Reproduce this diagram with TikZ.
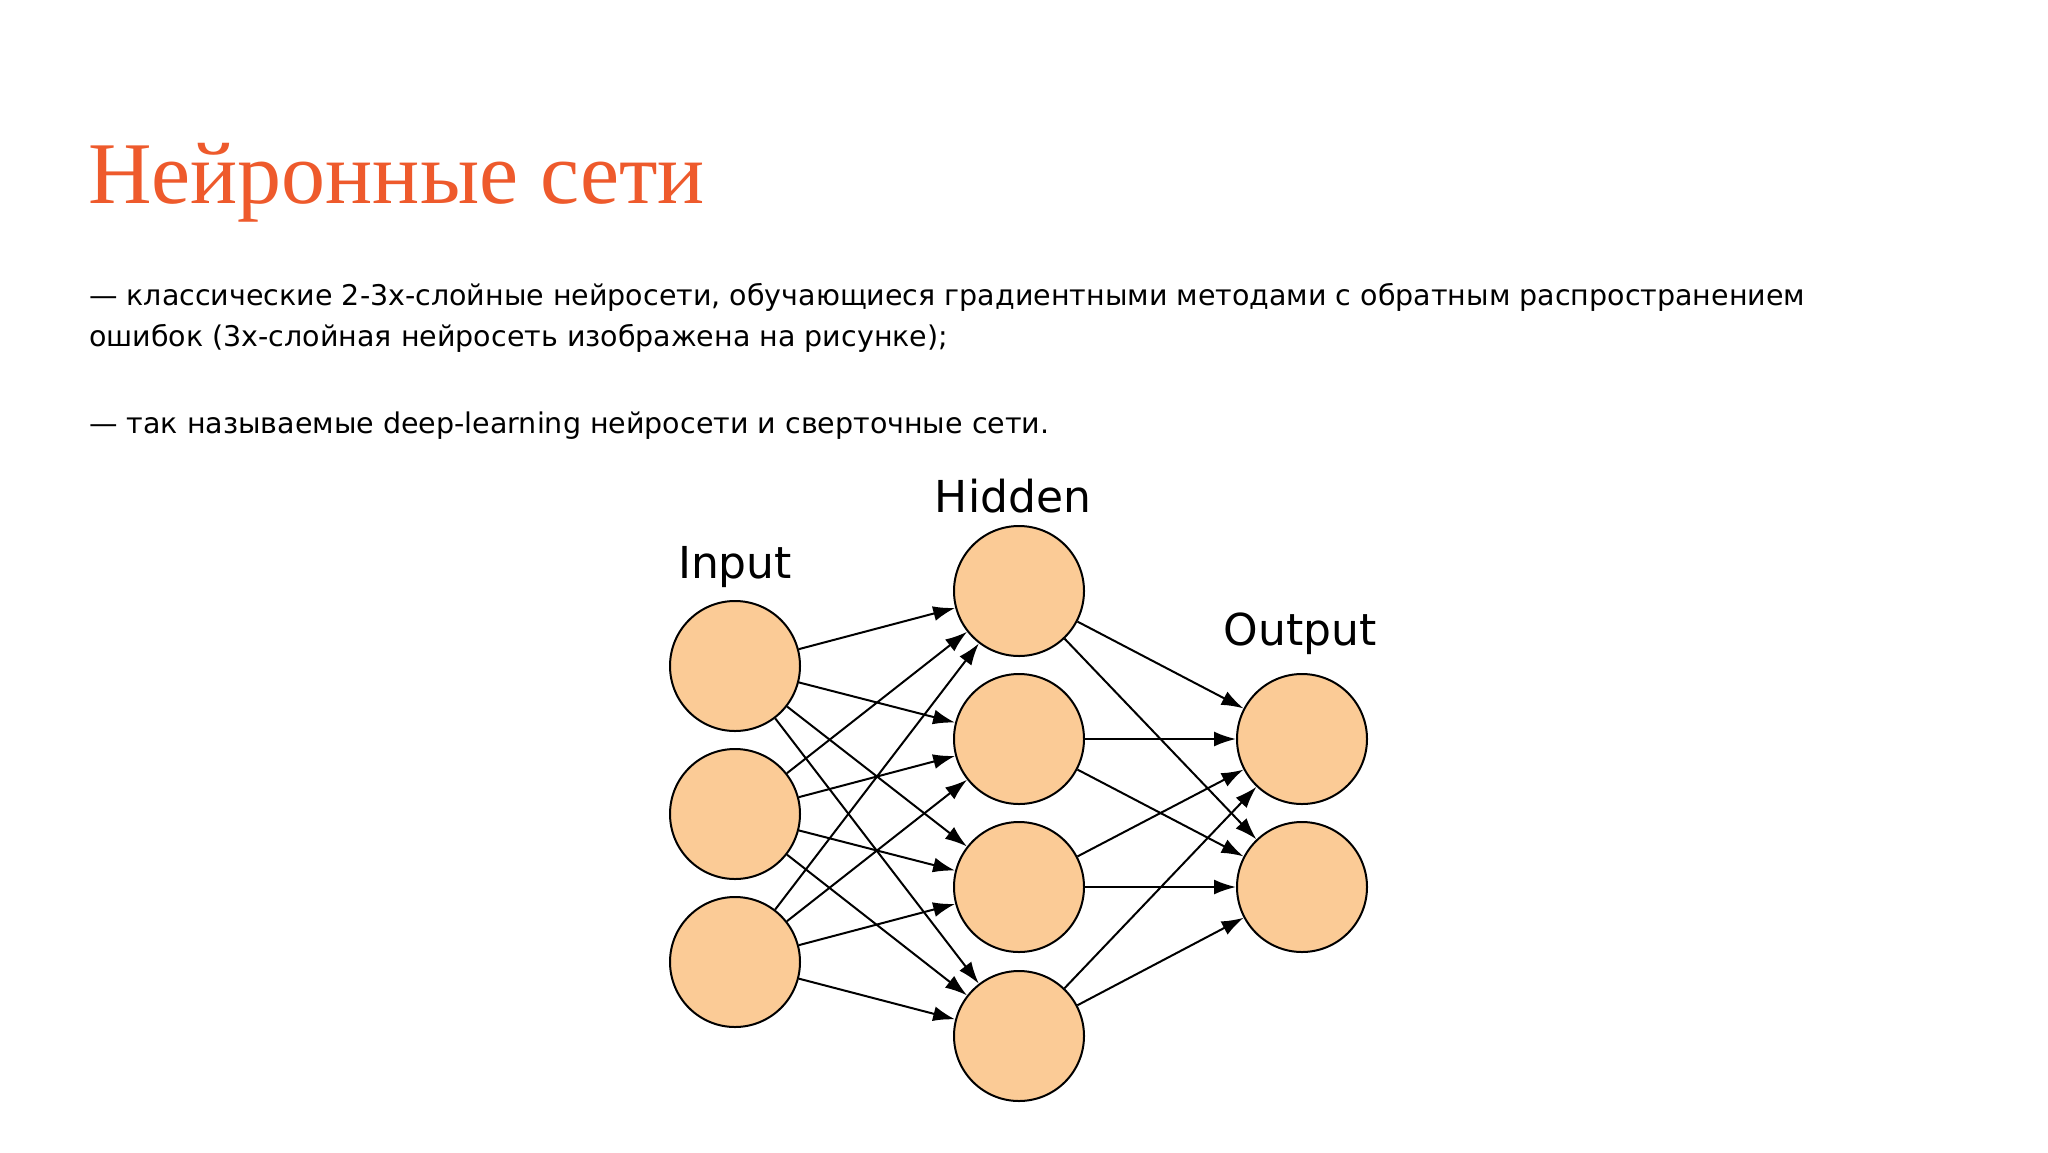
\documentclass[tikz,border=0pt]{standalone}
\usepackage{fontspec}
\setmainfont{Liberation Serif}
\newfontfamily\bodyfont{DejaVu Sans}
\usetikzlibrary{arrows.meta}
\definecolor{titlec}{HTML}{EE5A2C}
\definecolor{neur}{HTML}{FBCB96}
\begin{document}
\begin{tikzpicture}[x=1pt,y=-1pt,
  neuron/.style={circle,draw=black,line width=2pt,fill=neur,minimum size=130pt,inner sep=0pt},
  lbl/.style={font=\bodyfont\fontsize{44}{50}\selectfont},
  conn/.style={line width=2pt,-{Latex[length=22pt,width=15pt]}},
  txt/.style={anchor=west,inner sep=0pt,font=\bodyfont\fontsize{28.5}{34}\selectfont}]
\useasboundingbox[fill=white] (0,0) rectangle (2048,1152);
\node[anchor=base west,inner sep=0pt,text=titlec,font=\fontsize{88}{100}\selectfont] (title) at (88,203) {Нейронные сети};
\node[txt] (l1) at (89,297) {— классические 2-3х-слойные нейросети, обучающиеся градиентными методами с обратным распространением};
\node[txt] (l2) at (89,338) {ошибок (3х-слойная нейросеть изображена на рисунке);};
\node[txt] (l3) at (89,426) {— так называемые deep-learning нейросети и сверточные сети.};
\foreach \i/\y in {1/666,2/814,3/962} \node[neuron] (i\i) at (735,\y) {};
\foreach \i/\y in {1/591,2/739,3/887,4/1036} \node[neuron] (h\i) at (1019,\y) {};
\foreach \i/\y in {1/739,2/887} \node[neuron] (o\i) at (1302,\y) {};
\node[lbl] (tin) at (735,567) {Input};
\node[lbl] (thid) at (1013,496) {Hidden};
\node[lbl] (tout) at (1300,634) {Output};
\foreach \a in {1,2,3} \foreach \b in {1,2,3,4} \draw[conn] (i\a) -- (h\b);
\foreach \a in {1,2,3,4} \foreach \b in {1,2} \draw[conn] (h\a) -- (o\b);
\end{tikzpicture}
\end{document}
